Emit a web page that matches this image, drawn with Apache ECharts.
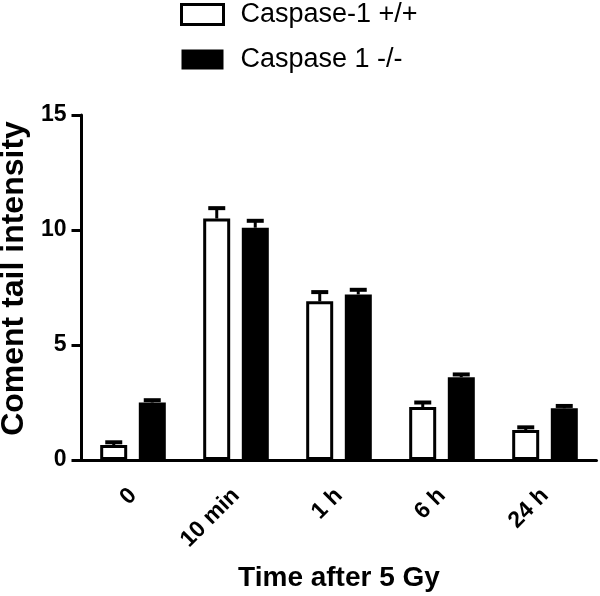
<!DOCTYPE html>
<html>
<head>
<meta charset="utf-8">
<script src="https://cdn.jsdelivr.net/npm/echarts@6/dist/echarts.min.js"></script>
<style>html,body{margin:0;padding:0;background:#fff}#c{width:600px;height:596px}</style>
</head>
<body>
<div id="c"></div>
<script>
const categories = ['0', '10 min', '1 h', '6 h', '24 h'];
const seriesNames = ['Caspase-1 +/+', 'Caspase 1 -/-'];
const wtMean = [0.65, 10.5, 6.9, 2.3, 1.3];
const wtErr = [0.12, 0.45, 0.4, 0.2, 0.12];
const koMean = [2.5, 10.1, 7.2, 3.6, 2.25];
const koErr = [0.1, 0.3, 0.2, 0.12, 0.1];
const yTicks = [0, 5, 10, 15];

const FONT = '"Liberation Sans", Arial, sans-serif';
const BAR_W = 27;
const HALF = 19.25;

function errRender(offset) {
  return function (params, api) {
    const c0 = api.coord([api.value(0), api.value(1)]);
    const c1 = api.coord([api.value(0), api.value(1) + api.value(2)]);
    const x = c0[0] + offset;
    return {
      type: 'group',
      children: [
        {type: 'line', shape: {x1: x, y1: c0[1], x2: x, y2: c1[1]}, style: {stroke: '#000', lineWidth: 3}},
        {type: 'line', shape: {x1: x - 8.5, y1: c1[1], x2: x + 8.5, y2: c1[1]}, style: {stroke: '#000', lineWidth: 4}}
      ]
    };
  };
}

const chart = echarts.init(document.getElementById('c'), null, {renderer: 'canvas'});
chart.setOption({
  animation: false,
  backgroundColor: '#fff',
  legend: {
    orient: 'vertical',
    left: 180,
    top: 1,
    padding: 0,
    icon: 'rect',
    itemWidth: 42,
    itemHeight: 20,
    itemGap: 18,
    textStyle: {fontFamily: FONT, fontSize: 27, color: '#000', padding: [0, 0, 0, 12]},
    data: [
      {name: seriesNames[0], icon: 'rect', itemStyle: {color: '#fff', borderColor: '#000', borderWidth: 3}},
      {name: seriesNames[1], icon: 'rect', itemStyle: {color: '#000', borderColor: '#000', borderWidth: 0}}
    ]
  },
  grid: {left: 81.5, right: 3.5, top: 115, bottom: 136, containLabel: false, outerBoundsMode: 'none'},
  xAxis: {
    type: 'category',
    data: categories,
    boundaryGap: true,
    name: 'Time after 5 Gy',
    nameLocation: 'middle',
    nameGap: 104,
    nameTextStyle: {fontFamily: FONT, fontSize: 28, fontWeight: 'bold', color: '#000'},
    axisLine: {lineStyle: {color: '#000', width: 3}},
    axisTick: {alignWithLabel: true, length: 12, lineStyle: {color: '#000', width: 3}},
    axisLabel: {rotate: 45, margin: 32, fontFamily: FONT, fontSize: 23, fontWeight: 'bold', color: '#000'},
    splitLine: {show: false}
  },
  yAxis: {
    type: 'value',
    min: yTicks[0],
    max: yTicks[yTicks.length - 1],
    interval: 5,
    name: 'Coment tail intensity',
    nameLocation: 'middle',
    nameGap: 45,
    nameTextStyle: {fontFamily: FONT, fontSize: 32, fontWeight: 'bold', color: '#000', padding: [0, 0, 0, 18]},
    axisLine: {show: true, lineStyle: {color: '#000', width: 3}},
    axisTick: {show: true, length: 10, lineStyle: {color: '#000', width: 3}},
    axisLabel: {margin: 15, fontFamily: FONT, fontSize: 23, fontWeight: 'bold', color: '#000'},
    splitLine: {show: false}
  },
  series: [
    {
      name: seriesNames[0], type: 'bar', data: wtMean, barWidth: BAR_W, barGap: '43%',
      itemStyle: {color: '#fff', borderColor: '#000', borderWidth: 3}
    },
    {
      name: seriesNames[1], type: 'bar', data: koMean, barWidth: BAR_W, barGap: '43%',
      itemStyle: {color: '#000', borderColor: '#000', borderWidth: 0}
    },
    {
      type: 'custom', z: 5, renderItem: errRender(-HALF),
      data: wtMean.map((v, i) => [i, v, wtErr[i]])
    },
    {
      type: 'custom', z: 5, renderItem: errRender(HALF),
      data: koMean.map((v, i) => [i, v, koErr[i]])
    }
  ]
});
</script>
</body>
</html>
